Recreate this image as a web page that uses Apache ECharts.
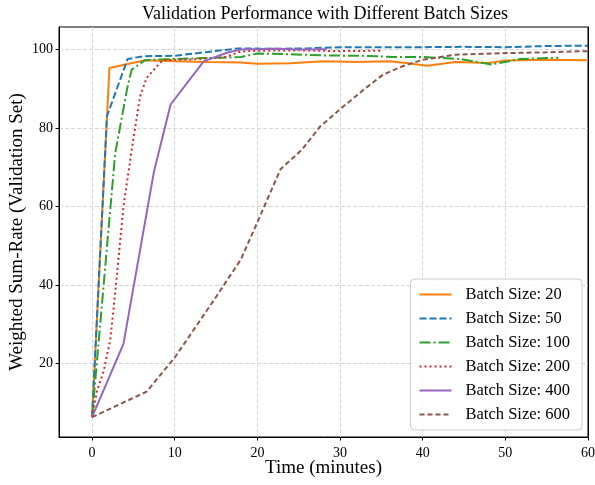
<!DOCTYPE html>
<html>
<head>
<meta charset="utf-8">
<script src="https://cdn.jsdelivr.net/npm/echarts@6/dist/echarts.min.js"></script>
<style>html,body{margin:0;padding:0;background:#fff}#c{width:595px;height:485px}</style>
</head>
<body>
<div id="c"></div>
<script>
// Data: [time (minutes), weighted sum-rate]
var bs20 = [[0,6.3],[2.1,95.3],[6.4,97.3],[10,97.0],[14,96.8],[18,96.7],[20,96.4],[24,96.5],[28,97.0],[32,96.8],[36,97.0],[38,96.6],[40.5,95.9],[44,96.8],[48,96.6],[50,97.2],[55,97.4],[60,97.3]];
var bs50 = [[0,6.3],[1.8,83],[4.3,97.6],[6.2,98.3],[10,98.4],[14,99.4],[17.7,100.3],[22,100.2],[26,100.3],[30,100.6],[35,100.6],[40,100.6],[45,100.7],[50,100.6],[55,100.9],[60,101.0]];
var bs100 = [[0,6.3],[2.8,73.6],[4.3,90.6],[4.8,94.9],[6.4,97.3],[10,97.6],[15,97.9],[18,98.1],[20,99.0],[24,98.8],[28,98.5],[33,98.4],[36.6,98.1],[40,98.1],[44.5,97.6],[48.3,96.2],[51.8,97.6],[56.4,97.9]];
var bs200 = [[0,6.3],[0.6,13],[1.4,18],[2.2,26],[2.8,38],[3.8,60],[4.8,74.5],[5.8,88],[6.6,92.8],[8.2,96.6],[8.6,97.3],[12,97.5],[16,98.0],[18,99.5],[20,99.7],[25,99.8],[30,99.6],[35,99.7]];
var bs400 = [[0,6.3],[3.8,25],[7.5,69],[9.5,86],[13.5,97],[16.3,99.2],[18,100],[22,100.2],[25,100],[28.4,100.1]];
var bs600 = [[0,6.3],[6.6,12.8],[10,21.5],[14.7,36],[18,46.5],[20,56],[22.8,69.5],[25.4,74.5],[27.6,80.4],[30.4,85.5],[33,90],[35.2,93.6],[37.5,95.7],[40,97.4],[44,98.7],[50,99.1],[55,99.3],[60,99.6]];
var xTicks = [0,10,20,30,40,50,60];
var yTicks = [20,40,60,80,100];
var names = ['Batch Size: 20','Batch Size: 50','Batch Size: 100','Batch Size: 200','Batch Size: 400','Batch Size: 600'];

var FONT = '"Liberation Serif", "DejaVu Serif", serif';
var chart = echarts.init(document.getElementById('c'), null, {renderer:'canvas'});
function mk(name, data, color, type) {
  return {
    name: name, type: 'line', data: data, symbol: 'none', smooth: false,
    lineStyle: {color: color, width: 2, type: type, cap: 'butt'},
    itemStyle: {color: color},
    emphasis: {disabled: true}, animation: false
  };
}
chart.setOption({
  animation: false,
  backgroundColor: '#fff',
  textStyle: {fontFamily: FONT, color: '#000'},
  title: {
    text: 'Validation Performance with Different Batch Sizes',
    left: 320, textAlign: 'center', top: 0,
    textStyle: {fontFamily: FONT, fontSize: 18, fontWeight: 'normal', color: '#000'}
  },
  grid: {left: 59, right: 7, top: 27, bottom: 48, outerBoundsMode: 'none', containLabel: false,
         show: true, borderColor: '#000', borderWidth: 1, backgroundColor: 'transparent'},
  legend: {
    orient: 'vertical', right: 13, bottom: 55,
    data: names,
    itemWidth: 32, itemHeight: 12, itemGap: 7,
    padding: [7, 12, 7, 8],
    backgroundColor: 'rgba(255,255,255,0.85)',
    borderColor: '#cccccc', borderWidth: 1, borderRadius: 4,
    itemStyle: {opacity: 0, borderWidth: 0},
    textStyle: {fontFamily: FONT, fontSize: 16.5, color: '#000', padding: [0,0,0,9]}
  },
  xAxis: {
    type: 'value', min: -4, max: 60,
    name: 'Time (minutes)', nameLocation: 'middle', nameGap: 22, nameMoveOverlap: false,
    nameTextStyle: {fontFamily: FONT, fontSize: 19, color: '#000'},
    axisLine: {show: true, onZero: false, lineStyle: {color: '#000', width: 1}},
    axisTick: {show: true, length: 3.5, customValues: xTicks, lineStyle: {color: '#000'}},
    axisLabel: {customValues: xTicks, fontFamily: FONT, fontSize: 14, color: '#000', margin: 9},
    splitLine: {show: true, lineStyle: {color: '#cccccc', type: [4, 2], width: 0.8}}
  },
  yAxis: [{
    type: 'value', min: 1.25, max: 105.75,
    name: 'Weighted Sum-Rate (Validation Set)', nameLocation: 'middle', nameGap: 32, nameMoveOverlap: false,
    nameTextStyle: {fontFamily: FONT, fontSize: 19, color: '#000'},
    axisLine: {show: true, onZero: false, lineStyle: {color: '#000', width: 1}},
    axisTick: {show: true, length: 3.5, customValues: yTicks, lineStyle: {color: '#000'}},
    axisLabel: {customValues: yTicks, fontFamily: FONT, fontSize: 14, color: '#000', margin: 6},
    splitLine: {show: true, lineStyle: {color: '#cccccc', type: [4, 2], width: 0.8}}
  }, {
    type: 'value', min: 1.25, max: 105.75, position: 'right',
    axisLine: {show: true, onZero: false, lineStyle: {color: '#000', width: 1}},
    axisTick: {show: false}, axisLabel: {show: false}, splitLine: {show: false}
  }],
  series: [
    mk(names[0], bs20, '#ff7f0e', 'solid'),
    mk(names[1], bs50, '#1f77b4', [7, 3]),
    mk(names[2], bs100, '#2ca02c', [11, 3, 2, 3]),
    mk(names[3], bs200, '#d62728', [2, 3]),
    mk(names[4], bs400, '#9467bd', 'solid'),
    mk(names[5], bs600, '#8c564b', [5, 3])
  ]
});
</script>
</body>
</html>
